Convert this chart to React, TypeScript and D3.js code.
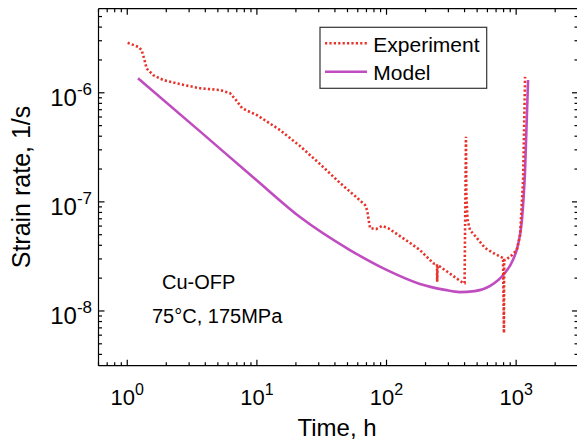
import React from "react";
import * as d3 from "d3";

const W = 577;
const H = 443;

// Experiment (time in h, strain rate in 1/s)
const expTime = [
  1.007, 1.216, 1.291, 1.345, 1.411, 1.587, 1.896, 2.55, 3.64, 5.19, 6.2, 6.9, 7.68, 8.85, 10,
  15.1, 21.5, 30.7, 43.8, 57.2, 68.3, 70.8, 74.6, 83, 92.4, 102.8, 127, 152, 181, 230, 245,
  246, 247.5, 259, 391, 400, 410, 413, 422, 441, 490, 575, 687, 792, 805, 809, 828, 929, 1011,
  1072, 1131, 1172,
];
const expRate = [
  2.87e-6, 2.64e-6, 2.46e-6, 2.08e-6, 1.67e-6, 1.45e-6, 1.31e-6, 1.2e-6, 1.1e-6, 1.06e-6, 9.93e-7,
  8.57e-7, 7.24e-7, 6.66e-7, 6.25e-7, 4.55e-7, 3.25e-7, 2.22e-7, 1.49e-7, 1.13e-7, 9.36e-8, 8.4e-8,
  5.75e-8, 5.63e-8, 6.01e-8, 5.75e-8, 4.86e-8, 4.2e-8, 3.62e-8, 2.73e-8, 2.69e-8, 1.85e-8, 2.6e-8,
  2.55e-8, 1.8e-8, 1.8e-8, 3.95e-7, 1.15e-7, 6.8e-8, 5.5e-8, 4.77e-8, 3.78e-8, 3.33e-8, 3.06e-8,
  6.28e-9, 2.93e-8, 2.93e-8, 3.26e-8, 3.62e-8, 4.95e-8, 1.58e-7, 1.4e-6,
];

// Model
const modelTime = [1.21, 3.64, 10, 21.5, 52.2, 100, 181, 283, 366, 479, 626, 818, 944, 1033, 1108, 1172, 1236];
const modelRate = [
  1.36e-6, 4.43e-7, 1.57e-7, 7.26e-8, 3.62e-8, 2.38e-8, 1.77e-8, 1.56e-8, 1.49e-8, 1.52e-8, 1.69e-8,
  2.23e-8, 2.93e-8, 4.03e-8, 6.82e-8, 1.96e-7, 1.31e-6,
];

const xMajor = [0, 1, 2, 3];
const yMajor = [-6, -7, -8];

const seriesNames = ["Experiment", "Model"];
const annotations = ["Cu-OFP", "75\u00B0C, 175MPa"];
const xLabel = "Time, h";
const yLabel = "Strain rate, 1/s";

const RED = "#E8332B";
const MAG = "#C04DC0";
const FONT = "'Liberation Sans', Arial, sans-serif";

export default function App() {
  const left = 98.5;
  const right = 578;
  const top = 8.7;
  const bottom = 365.7;

  const x = d3.scaleLog().domain([0.6, 3000]).range([left, right]);
  const y = d3.scaleLog().domain([3.15e-9, 5.9e-6]).range([bottom, top]);

  const expData = expTime.map((t, i) => [t, expRate[i]] as [number, number]);
  const modelData = modelTime.map((t, i) => [t, modelRate[i]] as [number, number]);

  const expLine = d3
    .line<[number, number]>()
    .x((d) => x(d[0]))
    .y((d) => y(d[1]));
  const modelLine = d3
    .line<[number, number]>()
    .x((d) => x(d[0]))
    .y((d) => y(d[1]))
    .curve(d3.curveMonotoneX);

  const xTicks: { v: number; major: boolean }[] = [];
  for (let e = -1; e <= 3; e++) {
    for (let m = 1; m <= 9; m++) {
      const v = m * Math.pow(10, e);
      if (v >= 0.6 && v <= 3000) xTicks.push({ v, major: m === 1 });
    }
  }
  const yTicks: { v: number; major: boolean }[] = [];
  for (let e = -9; e <= -6; e++) {
    for (let m = 1; m <= 9; m++) {
      const v = m * Math.pow(10, e);
      if (v >= 3.15e-9 && v <= 5.9e-6) yTicks.push({ v, major: m === 1 });
    }
  }
  const majL = 6;
  const minL = 3.5;

  return (
    <svg
      width={W}
      height={H}
      style={{ position: "absolute", left: 0, top: 0, background: "#fff" }}
      fontFamily={FONT}
    >
      <rect x={0} y={0} width={W} height={H} fill="#fff" />
      <path d={modelLine(modelData) || ""} fill="none" stroke={MAG} strokeWidth={2.6} />
      <path
        d={expLine(expData) || ""}
        fill="none"
        stroke={RED}
        strokeWidth={2.6}
        strokeDasharray="2.2,2.2"
      />

      <g stroke="#000" strokeWidth={1.2} fill="none">
        <line x1={left} x2={right} y1={bottom} y2={bottom} />
        <line x1={left} x2={right} y1={top} y2={top} />
        <line x1={left} x2={left} y1={top} y2={bottom} />
        <line x1={right} x2={right} y1={top} y2={bottom} />
        {xTicks.map((t, i) => (
          <g key={"xt" + i}>
            <line x1={x(t.v)} x2={x(t.v)} y1={bottom} y2={bottom - (t.major ? majL : minL)} />
            <line x1={x(t.v)} x2={x(t.v)} y1={top} y2={top + (t.major ? majL : minL)} />
          </g>
        ))}
        {yTicks.map((t, i) => (
          <g key={"yt" + i}>
            <line x1={left} x2={left + (t.major ? majL : minL)} y1={y(t.v)} y2={y(t.v)} />
            <line x1={right} x2={right - (t.major ? majL : minL)} y1={y(t.v)} y2={y(t.v)} />
          </g>
        ))}
      </g>

      {xMajor.map((e) => (
        <text key={"xl" + e} x={x(Math.pow(10, e))} y={405} textAnchor="middle" fontSize={22} fill="#000">
          <tspan>10</tspan>
          <tspan dy={-10} fontSize={16}>
            {String(e)}
          </tspan>
        </text>
      ))}
      {yMajor.map((e) => (
        <text key={"yl" + e} x={92} y={y(Math.pow(10, e)) + 13} textAnchor="end" fontSize={24} fill="#000">
          <tspan>10</tspan>
          <tspan dy={-11} fontSize={17}>
            {String(e)}
          </tspan>
        </text>
      ))}

      <text x={337} y={436} textAnchor="middle" fontSize={24} fill="#000">
        {xLabel}
      </text>
      <text
        transform={`translate(30, 187) rotate(-90)`}
        textAnchor="middle"
        fontSize={25}
        fill="#000"
      >
        {yLabel}
      </text>

      <text x={162} y={289} fontSize={20} fill="#000">
        {annotations[0]}
      </text>
      <text x={152} y={323} fontSize={20} fill="#000">
        {annotations[1]}
      </text>

      <rect x={320} y={27.3} width={166.7} height={61} fill="#fff" stroke="#333" strokeWidth={1.2} />
      <line x1={325} x2={367} y1={43.3} y2={43.3} stroke={RED} strokeWidth={2.6} strokeDasharray="2.2,2.2" />
      <line x1={325} x2={367} y1={71.7} y2={71.7} stroke={MAG} strokeWidth={2.6} />
      <text x={373.3} y={52} fontSize={21} fill="#000">
        {seriesNames[0]}
      </text>
      <text x={373.3} y={80} fontSize={21} fill="#000">
        {seriesNames[1]}
      </text>
    </svg>
  );
}
